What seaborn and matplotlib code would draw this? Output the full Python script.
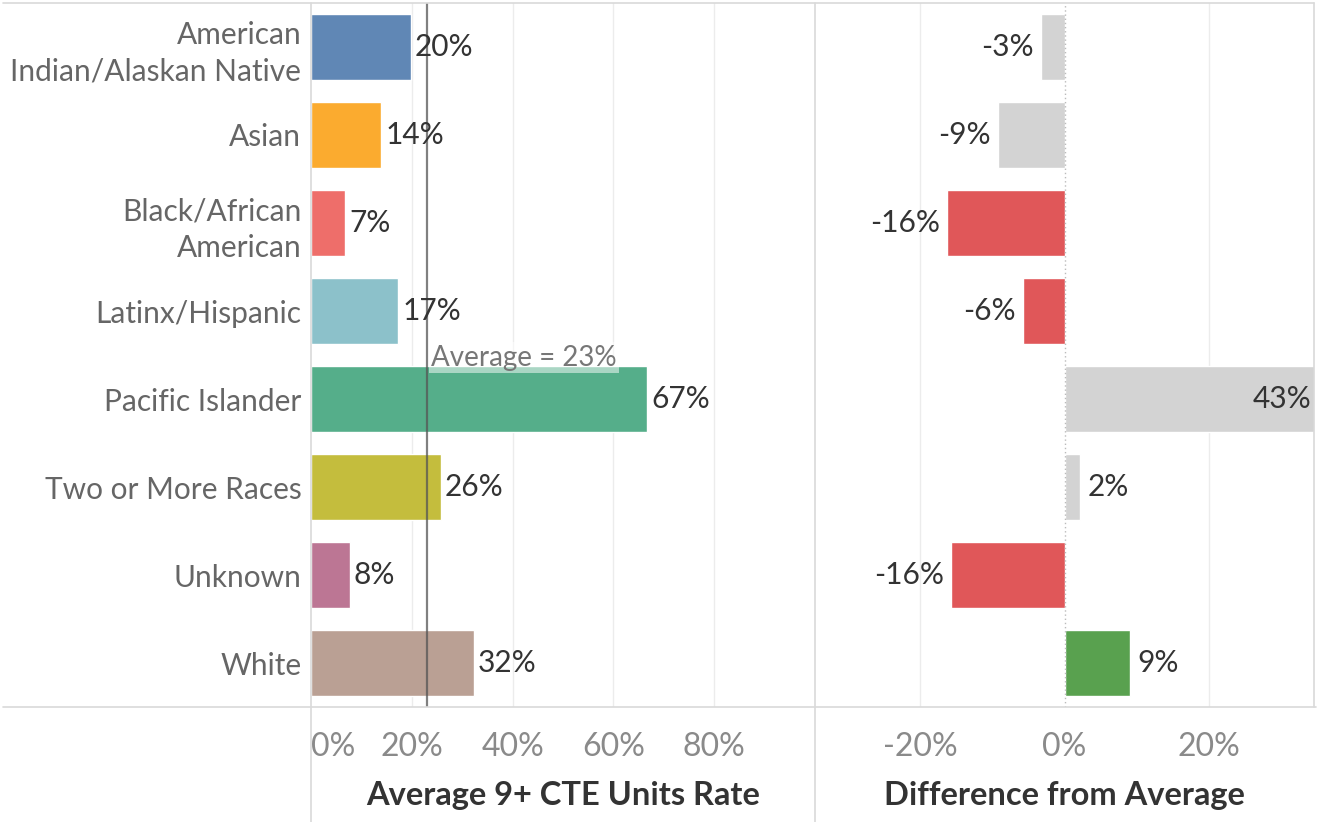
import matplotlib.pyplot as plt
import pandas as pd
import seaborn as sns
from matplotlib.lines import Line2D

# Data
groups = ['American\nIndian/Alaskan Native', 'Asian', 'Black/African\nAmerican', 'Latinx/Hispanic',
          'Pacific Islander', 'Two or More Races', 'Unknown', 'White']
rate = [0.198, 0.139, 0.067, 0.173, 0.667, 0.257, 0.077, 0.323]
average = 0.23
diff = [-0.033, -0.092, -0.162, -0.058, 0.43, 0.022, -0.157, 0.091]
group_colors = ['#6087b5', '#fbab2f', '#ee6e6a', '#8cc1ca', '#55ae8a', '#c4bd3d', '#bc7694', '#baa094']
diff_colors = ['#d3d3d3', '#d3d3d3', '#e05759', '#e05759', '#d3d3d3', '#d3d3d3', '#e05759', '#59a14f']
rate_ticks = [0, 0.2, 0.4, 0.6, 0.8]
diff_ticks = [-0.2, 0, 0.2]

df = pd.DataFrame({'group': groups, 'rate': rate, 'diff': diff})

sns.set_style('white')
plt.rcParams['font.family'] = ['Lato', 'DejaVu Sans']

W, H = 1325, 822
fig = plt.figure(figsize=(W / 100, H / 100), dpi=100)
ax1 = fig.add_axes([311 / W, 1 - 707 / H, 504 / W, 704 / H])
ax2 = fig.add_axes([815 / W, 1 - 707 / H, 499 / W, 704 / H])

# Left panel: rate by group
sns.barplot(data=df, x='rate', y='group', hue='group', palette=group_colors, saturation=1,
            width=0.75, legend=False, ax=ax1, zorder=2)
ax1.set_xlim(0, 1.0)
ax1.set_ylim(7.5, -0.5)
for t in rate_ticks[1:]:
    ax1.axvline(t, color='#ececec', lw=1, zorder=0)
ax1.axvline(average, color='#555555', lw=1.6, alpha=0.75, zorder=4)
ax1.text(average + 0.009, 4 - 0.47, f'Average = {average:.0%}', fontsize=20, color='#777777',
         va='center', ha='left', zorder=5,
         bbox=dict(boxstyle='square,pad=0.08', fc='white', ec='none', alpha=0.5))
for i, v in enumerate(rate):
    ax1.annotate(f'{v:.0%}', (v, i), xytext=(3, 0), textcoords='offset points',
                 ha='left', va='center', fontsize=21.5, color='#333333', zorder=6)

# Right panel: difference from average
sns.barplot(data=df, x='diff', y='group', hue='group', palette=diff_colors, saturation=1,
            width=0.75, legend=False, ax=ax2, zorder=2)
lim = 0.345
ax2.set_xlim(-lim, lim)
ax2.set_ylim(7.5, -0.5)
for t in [-0.2, 0.2]:
    ax2.axvline(t, color='#ececec', lw=1, zorder=0)
ax2.axvline(0, color='#bbbbbb', lw=1, ls=(0, (1, 2)), zorder=3)
for i, v in enumerate(diff):
    if v > lim:
        ax2.annotate(f'{v:.0%}', (lim, i), xytext=(-2, 0), textcoords='offset points',
                     ha='right', va='center', fontsize=21.5, color='#333333')
    elif v >= 0:
        ax2.annotate(f'{v:.0%}', (v, i), xytext=(5, 0), textcoords='offset points',
                     ha='left', va='center', fontsize=21.5, color='#333333')
    else:
        ax2.annotate(f'{v:.0%}', (v, i), xytext=(-5, 0), textcoords='offset points',
                     ha='right', va='center', fontsize=21.5, color='#333333')

# Axes styling
for ax in (ax1, ax2):
    for s in ax.spines.values():
        s.set_visible(False)
    ax.set_ylabel('')
    ax.tick_params(axis='x', length=0, pad=18, labelsize=23, labelcolor='#8a8a8a')

ax1.set_xticks(rate_ticks, [f'{t:.0%}' for t in rate_ticks])
ax2.set_xticks(diff_ticks, [f'{t:.0%}' for t in diff_ticks])
# first label sits inside the panel, as in the dashboard
ax1.get_xticklabels()[0].set_horizontalalignment('left')
ax1.tick_params(axis='y', length=0, pad=7, labelsize=21.5, labelcolor='#666666')
for lab in ax1.get_yticklabels():
    lab.set_linespacing(1.35)
ax2.set_yticks([])

ax1.set_xlabel('Average 9+ CTE Units Rate', fontsize=23.5, fontweight='bold', color='#333333', labelpad=14)
ax2.set_xlabel('Difference from Average', fontsize=23.5, fontweight='bold', color='#333333', labelpad=14)

# Frame lines like the dashboard layout
def fline(x0, y0, x1, y1):
    fig.add_artist(Line2D([x0 / W, x1 / W], [1 - y0 / H, 1 - y1 / H], color='#d9d9d9', lw=1.2))

fline(3, 3, 1314, 3)
fline(3, 707, 1316, 707)
fline(311, 3, 311, 822)
fline(815, 3, 815, 822)
fline(1314, 3, 1314, 707)

fig.savefig('out.png', dpi=100)
